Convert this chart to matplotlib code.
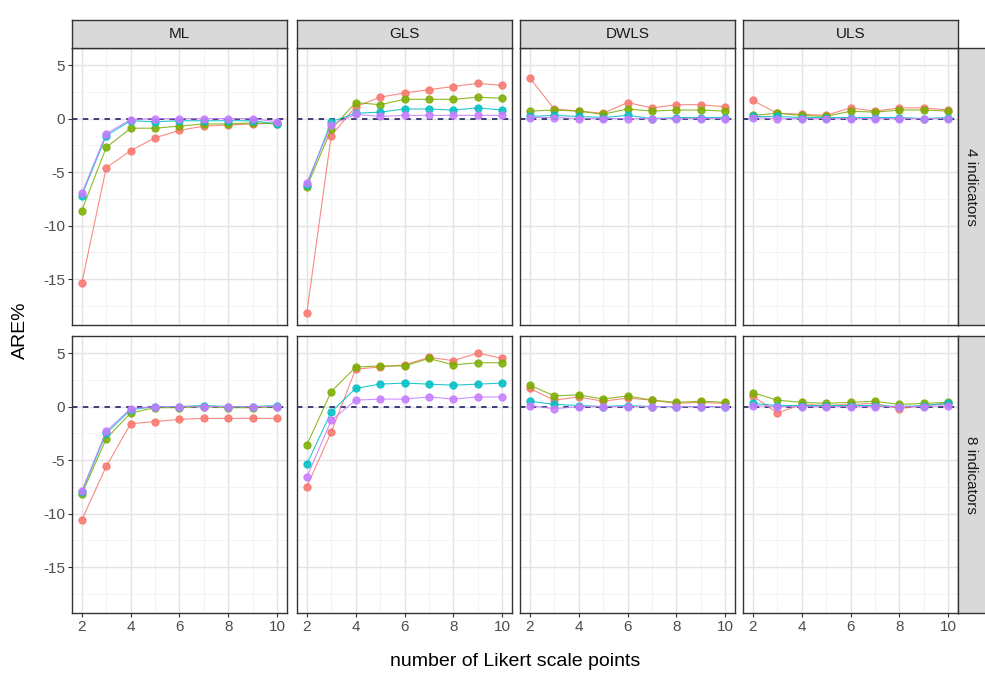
import matplotlib
matplotlib.use("Agg")
import matplotlib.pyplot as plt
import numpy as np

plt.rcParams["font.family"] = ["Liberation Sans", "DejaVu Sans"]
plt.rcParams["axes.unicode_minus"] = False

# ---------------- data ----------------
x_points = [2, 3, 4, 5, 6, 7, 8, 9, 10]
estimators = ["ML", "GLS", "DWLS", "ULS"]
indicator_rows = ["4 indicators", "8 indicators"]
series_names = ["S1", "S2", "S3", "S4"]
series_colors = ["#F8766D", "#7CAE00", "#00BFC4", "#C77CFF"]

# 4 indicators
ml4_red    = [-15.4, -4.6, -3.0, -1.8, -1.1, -0.7, -0.6, -0.5, -0.4]
ml4_green  = [-8.6, -2.7, -0.9, -0.9, -0.7, -0.5, -0.5, -0.4, -0.5]
ml4_blue   = [-7.2, -1.6, -0.2, -0.3, -0.2, -0.2, -0.2, -0.2, -0.5]
ml4_purple = [-7.0, -1.4, -0.1, 0.0, 0.0, 0.0, 0.0, 0.0, -0.3]

gls4_red    = [-18.2, -1.6, 1.1, 2.0, 2.4, 2.7, 3.0, 3.3, 3.1]
gls4_green  = [-6.4, -1.0, 1.5, 1.3, 1.8, 1.8, 1.8, 2.0, 1.9]
gls4_blue   = [-6.2, -0.3, 0.5, 0.6, 0.9, 0.9, 0.8, 1.0, 0.8]
gls4_purple = [-6.0, -0.6, 0.4, 0.2, 0.3, 0.3, 0.3, 0.3, 0.3]

dwls4_red    = [3.8, 0.9, 0.7, 0.5, 1.5, 1.0, 1.3, 1.3, 1.1]
dwls4_green  = [0.7, 0.8, 0.7, 0.4, 0.9, 0.7, 0.8, 0.8, 0.7]
dwls4_blue   = [0.2, 0.3, 0.2, 0.1, 0.3, 0.0, 0.1, 0.1, 0.1]
dwls4_purple = [0.1, 0.1, 0.0, 0.0, 0.0, 0.0, 0.0, 0.0, 0.0]

uls4_red    = [1.7, 0.5, 0.4, 0.3, 1.0, 0.7, 1.0, 1.0, 0.8]
uls4_green  = [0.3, 0.5, 0.3, 0.2, 0.7, 0.6, 0.8, 0.8, 0.7]
uls4_blue   = [0.2, 0.2, 0.1, 0.1, 0.1, 0.1, 0.1, 0.0, 0.1]
uls4_purple = [0.1, 0.0, 0.0, 0.0, 0.0, 0.0, 0.0, 0.0, 0.0]

# 8 indicators
ml8_red    = [-10.6, -5.6, -1.6, -1.4, -1.2, -1.1, -1.1, -1.1, -1.1]
ml8_green  = [-8.2, -3.0, -0.6, -0.1, -0.1, 0.0, -0.1, -0.1, 0.0]
ml8_blue   = [-8.0, -2.5, -0.3, 0.0, 0.0, 0.1, 0.0, 0.0, 0.1]
ml8_purple = [-7.9, -2.3, -0.2, 0.0, 0.0, 0.0, 0.0, 0.0, 0.0]

gls8_red    = [-7.5, -2.4, 3.5, 3.7, 3.9, 4.6, 4.3, 5.0, 4.5]
gls8_green  = [-3.6, 1.4, 3.7, 3.8, 3.8, 4.5, 3.9, 4.1, 4.1]
gls8_blue   = [-5.4, -0.5, 1.7, 2.1, 2.2, 2.1, 2.0, 2.1, 2.2]
gls8_purple = [-6.6, -1.3, 0.6, 0.7, 0.7, 0.9, 0.7, 0.9, 0.9]

dwls8_red    = [1.7, 0.6, 0.9, 0.5, 0.8, 0.6, 0.3, 0.4, 0.3]
dwls8_green  = [2.0, 1.0, 1.1, 0.7, 1.0, 0.6, 0.4, 0.5, 0.4]
dwls8_blue   = [0.5, 0.2, 0.1, 0.0, 0.1, 0.0, 0.0, 0.0, 0.0]
dwls8_purple = [0.1, -0.2, 0.0, 0.0, 0.0, 0.0, 0.0, 0.0, 0.0]

uls8_red    = [1.0, -0.6, 0.2, 0.1, 0.2, 0.3, -0.2, 0.1, 0.3]
uls8_green  = [1.3, 0.6, 0.4, 0.3, 0.4, 0.5, 0.2, 0.3, 0.4]
uls8_blue   = [0.3, 0.1, 0.1, 0.1, 0.1, 0.1, 0.0, 0.1, 0.3]
uls8_purple = [0.1, 0.0, 0.0, 0.0, 0.0, 0.0, 0.0, 0.0, 0.1]

panel_data = {
    ("4 indicators", "ML"): [ml4_red, ml4_green, ml4_blue, ml4_purple],
    ("4 indicators", "GLS"): [gls4_red, gls4_green, gls4_blue, gls4_purple],
    ("4 indicators", "DWLS"): [dwls4_red, dwls4_green, dwls4_blue, dwls4_purple],
    ("4 indicators", "ULS"): [uls4_red, uls4_green, uls4_blue, uls4_purple],
    ("8 indicators", "ML"): [ml8_red, ml8_green, ml8_blue, ml8_purple],
    ("8 indicators", "GLS"): [gls8_red, gls8_green, gls8_blue, gls8_purple],
    ("8 indicators", "DWLS"): [dwls8_red, dwls8_green, dwls8_blue, dwls8_purple],
    ("8 indicators", "ULS"): [uls8_red, uls8_green, uls8_blue, uls8_purple],
}

y_ticks = [-15, -10, -5, 0, 5]
x_ticks = [2, 4, 6, 8, 10]

# ---------------- layout ----------------
W, H = 985, 674
fig = plt.figure(figsize=(W / 100, H / 100), dpi=100)
fig.patch.set_facecolor("white")

col_left = [72, 297, 520, 743]
col_w = 215
row_top = [48, 336]
row_h = 277
strip_h = 28
rstrip_w = 27

def fx(px):
    return px / W

def fy(py):
    return 1 - py / H

border = "#333333"
grid_major = "#e3e3e3"
grid_minor = "#f1f1f1"
strip_bg = "#d9d9d9"

for r, rowname in enumerate(indicator_rows):
    for c, est in enumerate(estimators):
        left = col_left[c]
        top = row_top[r]
        ax = fig.add_axes([fx(left), fy(top + row_h), col_w / W, row_h / H])
        ax.set_xlim(1.6, 10.4)
        ax.set_ylim(-19.3, 6.6)
        ax.set_xticks(x_ticks)
        ax.set_xticks([3, 5, 7, 9], minor=True)
        ax.set_yticks(y_ticks)
        ax.set_yticks([-17.5, -12.5, -7.5, -2.5, 2.5], minor=True)
        ax.grid(which="major", color=grid_major, linewidth=1.0)
        ax.grid(which="minor", color=grid_minor, linewidth=0.6)
        ax.set_axisbelow(True)
        for s in ax.spines.values():
            s.set_color(border)
            s.set_linewidth(1.0)
        ax.tick_params(which="minor", length=0)
        ax.tick_params(which="major", length=3, color="#333333",
                       labelsize=11, labelcolor="#4d4d4d", pad=2)
        if c != 0:
            ax.tick_params(axis="y", labelleft=False, length=0)
        if r != 1:
            ax.tick_params(axis="x", labelbottom=False, length=0)

        ax.axhline(0, color="#30306e", linestyle=(0, (3, 3)), linewidth=1.3, zorder=1)
        for vals, col, name in zip(panel_data[(rowname, est)], series_colors, series_names):
            ax.plot(x_points, vals, color=col, linewidth=0.8, marker="o",
                    markersize=5, alpha=0.85, label=name, zorder=2)

        # top strips
        if r == 0:
            sax = fig.add_axes([fx(left), fy(top), col_w / W, strip_h / H])
            sax.set_facecolor(strip_bg)
            sax.set_xticks([]); sax.set_yticks([])
            for s in sax.spines.values():
                s.set_color(border); s.set_linewidth(1.0)
            sax.text(0.5, 0.5, est, ha="center", va="center", fontsize=11,
                     color="#1a1a1a", transform=sax.transAxes)
    # right strip
    rax = fig.add_axes([fx(958), fy(row_top[r] + row_h), rstrip_w / W + 0.01, row_h / H])
    rax.set_facecolor(strip_bg)
    rax.set_xticks([]); rax.set_yticks([])
    for s in rax.spines.values():
        s.set_color(border); s.set_linewidth(1.0)
    rax.text(0.35, 0.5, rowname, ha="center", va="center", rotation=-90,
             fontsize=11, color="#1a1a1a", transform=rax.transAxes)

fig.text(fx(20), fy(330), "ARE%", rotation=90, ha="center", va="center",
         fontsize=14, color="black")
fig.text(fx(515), fy(662), "number of Likert scale points", ha="center",
         va="center", fontsize=14, color="black")

fig.savefig("out.png", dpi=100, facecolor="white")
